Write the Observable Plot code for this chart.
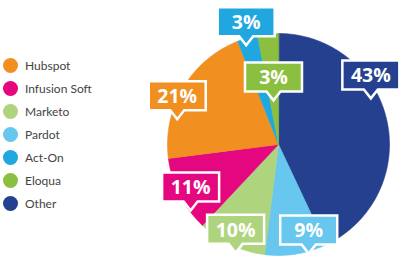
<!DOCTYPE html>
<html><head><meta charset="utf-8">
<script src="https://cdn.jsdelivr.net/npm/d3@7"></script>
<script src="https://cdn.jsdelivr.net/npm/@observablehq/plot@0.6"></script>
<style>
body{margin:0;background:#fff;}
#wrap{position:relative;width:405px;height:258px;overflow:hidden;}
#legend{position:absolute;left:3px;top:54px;font-family:Lato,sans-serif;font-size:12px;color:#444;}
.row{display:flex;align-items:center;height:23px;}
.sw{width:15px;height:15px;border-radius:50%;margin-right:7px;flex:none;}
</style></head><body><div id="wrap"></div>
<script>
// ---- data ----
const categories = ["Other", "Pardot", "Marketo", "Infusion Soft", "Hubspot", "Act-On", "Eloqua"];
const values = [43, 9, 10, 11, 21, 3, 3];
const colors = ["#25408F", "#67C7EE", "#AED47E", "#E5077F", "#F18F21", "#21A7E0", "#8BBF3F"];
const legendOrder = ["Hubspot", "Infusion Soft", "Marketo", "Pardot", "Act-On", "Eloqua", "Other"];

// ---- layout of callouts (fraction along slice angle, fraction of radius) ----
const calloutT = [0.41, 0.30, 0.40, 0.25, 0.28, 0.33, 0.40];
const calloutR = [0.93, 1.02, 1.05, 0.99, 0.94, 0.94, 0.40];

const arcs = d3.pie().sort(null).value(d => d)(values);

const slicePts = [];
arcs.forEach((a, i) => {
  slicePts.push({name: categories[i], x: 0, y: 0});
  const n = Math.max(4, Math.ceil((a.endAngle - a.startAngle) / 0.01));
  for (let k = 0; k <= n; k++) {
    const t = a.startAngle + (a.endAngle - a.startAngle) * k / n;
    slicePts.push({name: categories[i], x: Math.sin(t), y: Math.cos(t)});
  }
});

const callouts = arcs.map((a, i) => {
  const ang = a.startAngle + (a.endAngle - a.startAngle) * calloutT[i];
  return {name: categories[i], label: values[i] + "%", x: calloutR[i] * Math.sin(ang), y: calloutR[i] * Math.cos(ang)};
});

const W = 57, H = 29, PH = 9, PW = 7;
const calloutSymbol = {
  draw(ctx) {
    ctx.moveTo(-W / 2, -PH - H);
    ctx.lineTo(W / 2, -PH - H);
    ctx.lineTo(W / 2, -PH);
    ctx.lineTo(PW, -PH);
    ctx.lineTo(0, 0);
    ctx.lineTo(-PW, -PH);
    ctx.lineTo(-W / 2, -PH);
    ctx.closePath();
  }
};

const chart = Plot.plot({
  width: 405,
  height: 258,
  marginLeft: 167,
  marginRight: 16,
  marginTop: 33,
  marginBottom: 3,
  x: {domain: [-1, 1], axis: null},
  y: {domain: [-1, 1], axis: null},
  color: {domain: categories, range: colors},
  style: {background: "transparent", overflow: "visible"},
  marks: [
    Plot.line(slicePts, {x: "x", y: "y", z: "name", fill: "name", stroke: "name", strokeWidth: 0.6, curve: "linear-closed"}),
    Plot.dot(callouts, {x: "x", y: "y", fill: "name", symbol: calloutSymbol, r: 10, stroke: "white", strokeWidth: 2.5, strokeLinejoin: "miter"}),
    Plot.text(callouts, {x: "x", y: "y", text: "label", dy: -PH - H / 2 + 1, fill: "white", fontFamily: "'Open Sans', sans-serif", fontWeight: 700, fontSize: 19.5})
  ]
});

const wrap = document.getElementById("wrap");
wrap.appendChild(chart);

const legend = d3.select(wrap).append("div").attr("id", "legend");
const rows = legend.selectAll(".row").data(legendOrder).join("div").attr("class", "row");
rows.append("div").attr("class", "sw").style("background", d => colors[categories.indexOf(d)]);
rows.append("span").text(d => d);
</script>
</body></html>
